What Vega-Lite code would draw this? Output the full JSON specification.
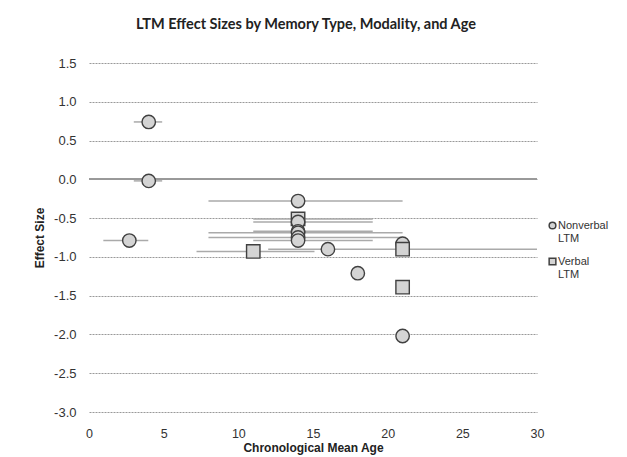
{
  "$schema": "https://vega.github.io/schema/vega-lite/v6.json",
  "width": 448,
  "height": 349,
  "autosize": {"type": "none"},
  "padding": {"left": 89, "top": 63, "right": 90, "bottom": 45},
  "background": "white",
  "title": {
    "text": "LTM Effect Sizes by Memory Type, Modality, and Age",
    "font": "Lato",
    "fontSize": 14.5,
    "fontWeight": "bold",
    "color": "#222222",
    "anchor": "middle",
    "offset": 25,
    "dx": -7
  },
  "config": {
    "view": {"stroke": null},
    "axis": {
      "labelFont": "Liberation Sans",
      "titleFont": "Liberation Sans",
      "labelColor": "#333333",
      "titleColor": "#222222",
      "labelFontSize": 13,
      "titleFontSize": 12,
      "titleFontWeight": "bold",
      "domain": false,
      "ticks": false
    }
  },
  "data": {
    "values": [
      {"type": "Nonverbal LTM", "age": 4, "es": 0.74, "lo": 3.0, "hi": 4.9},
      {"type": "Nonverbal LTM", "age": 4, "es": -0.02, "lo": 3.0, "hi": 4.9},
      {"type": "Nonverbal LTM", "age": 2.7, "es": -0.79, "lo": 0.96, "hi": 3.97},
      {"type": "Nonverbal LTM", "age": 14, "es": -0.28, "lo": 8, "hi": 21},
      {"type": "Verbal LTM", "age": 14, "es": -0.51, "lo": 11, "hi": 19},
      {"type": "Nonverbal LTM", "age": 14, "es": -0.55, "lo": 11, "hi": 19},
      {"type": "Nonverbal LTM", "age": 14, "es": -0.67, "lo": 11, "hi": 19},
      {"type": "Nonverbal LTM", "age": 14, "es": -0.69, "lo": 8, "hi": 21},
      {"type": "Nonverbal LTM", "age": 14, "es": -0.75, "lo": 8, "hi": 21},
      {"type": "Nonverbal LTM", "age": 14, "es": -0.79, "lo": 11, "hi": 19},
      {"type": "Verbal LTM", "age": 11, "es": -0.93, "lo": 7.2, "hi": 15.1},
      {"type": "Nonverbal LTM", "age": 16, "es": -0.9, "lo": null, "hi": null},
      {"type": "Nonverbal LTM", "age": 18, "es": -1.21, "lo": null, "hi": null},
      {"type": "Nonverbal LTM", "age": 21, "es": -0.83, "lo": null, "hi": null},
      {"type": "Verbal LTM", "age": 21, "es": -0.9, "lo": 12, "hi": 30},
      {"type": "Verbal LTM", "age": 21, "es": -1.39, "lo": null, "hi": null},
      {"type": "Nonverbal LTM", "age": 21, "es": -2.02, "lo": null, "hi": null}
    ]
  },
  "layer": [
    {
      "transform": [{"filter": "datum.lo != null"}],
      "mark": {"type": "rule", "color": "#aaaaaa", "strokeWidth": 1.5},
      "encoding": {
        "x": {
          "field": "lo", "type": "quantitative",
          "scale": {"domain": [0, 30], "nice": false, "zero": false},
          "axis": {"title": "Chronological Mean Age", "values": [0, 5, 10, 15, 20, 25, 30], "tickCount": 20, "grid": false, "labelFontSize": 12.5, "labelPadding": 15, "titlePadding": 3, "labelFlush": false}
        },
        "x2": {"field": "hi"},
        "y": {
          "field": "es", "type": "quantitative",
          "scale": {"domain": [-3, 1.5], "nice": false, "zero": false},
          "axis": {"title": "Effect Size", "values": [-3, -2.5, -2, -1.5, -1, -0.5, 0, 0.5, 1, 1.5], "tickCount": 20, "labelExpr": "replace(format(datum.value, '.1f'), '\u2212', '-')", "labelOverlap": false, "grid": true, "gridColor": "#999999", "gridDash": [2, 1], "gridWidth": 1, "labelPadding": 13, "titlePadding": 7}
        }
      }
    },
    {
      "mark": {"type": "rule", "color": "#999999", "strokeWidth": 1.5},
      "encoding": {"y": {"datum": 0, "type": "quantitative"}}
    },
    {
      "mark": {"type": "point", "filled": false, "fill": "#d4d4d4", "fillOpacity": 1, "stroke": "#404040", "strokeWidth": 1.4, "opacity": 1},
      "encoding": {
        "x": {"field": "age", "type": "quantitative"},
        "y": {"field": "es", "type": "quantitative"},
        "shape": {
          "field": "type", "type": "nominal",
          "scale": {"domain": ["Nonverbal LTM", "Verbal LTM"], "range": ["circle", "square"]},
          "legend": {
            "title": null,
            "orient": "none",
            "legendX": 458,
            "legendY": 157,
            "symbolSize": 45,
            "labelFont": "Liberation Sans",
            "labelFontSize": 11,
            "labelColor": "#333333",
            "labelOffset": 0,
            "rowPadding": 11,
            "labelExpr": "split(datum.label, ' ')",
            "encode": {
              "symbols": {
                "update": {
                  "fill": {"value": "white"},
                  "stroke": {"value": "#333333"},
                  "strokeWidth": {"value": 1.3}
                }
              }
            }
          }
        },
        "size": {"value": 180}
      }
    }
  ]
}
